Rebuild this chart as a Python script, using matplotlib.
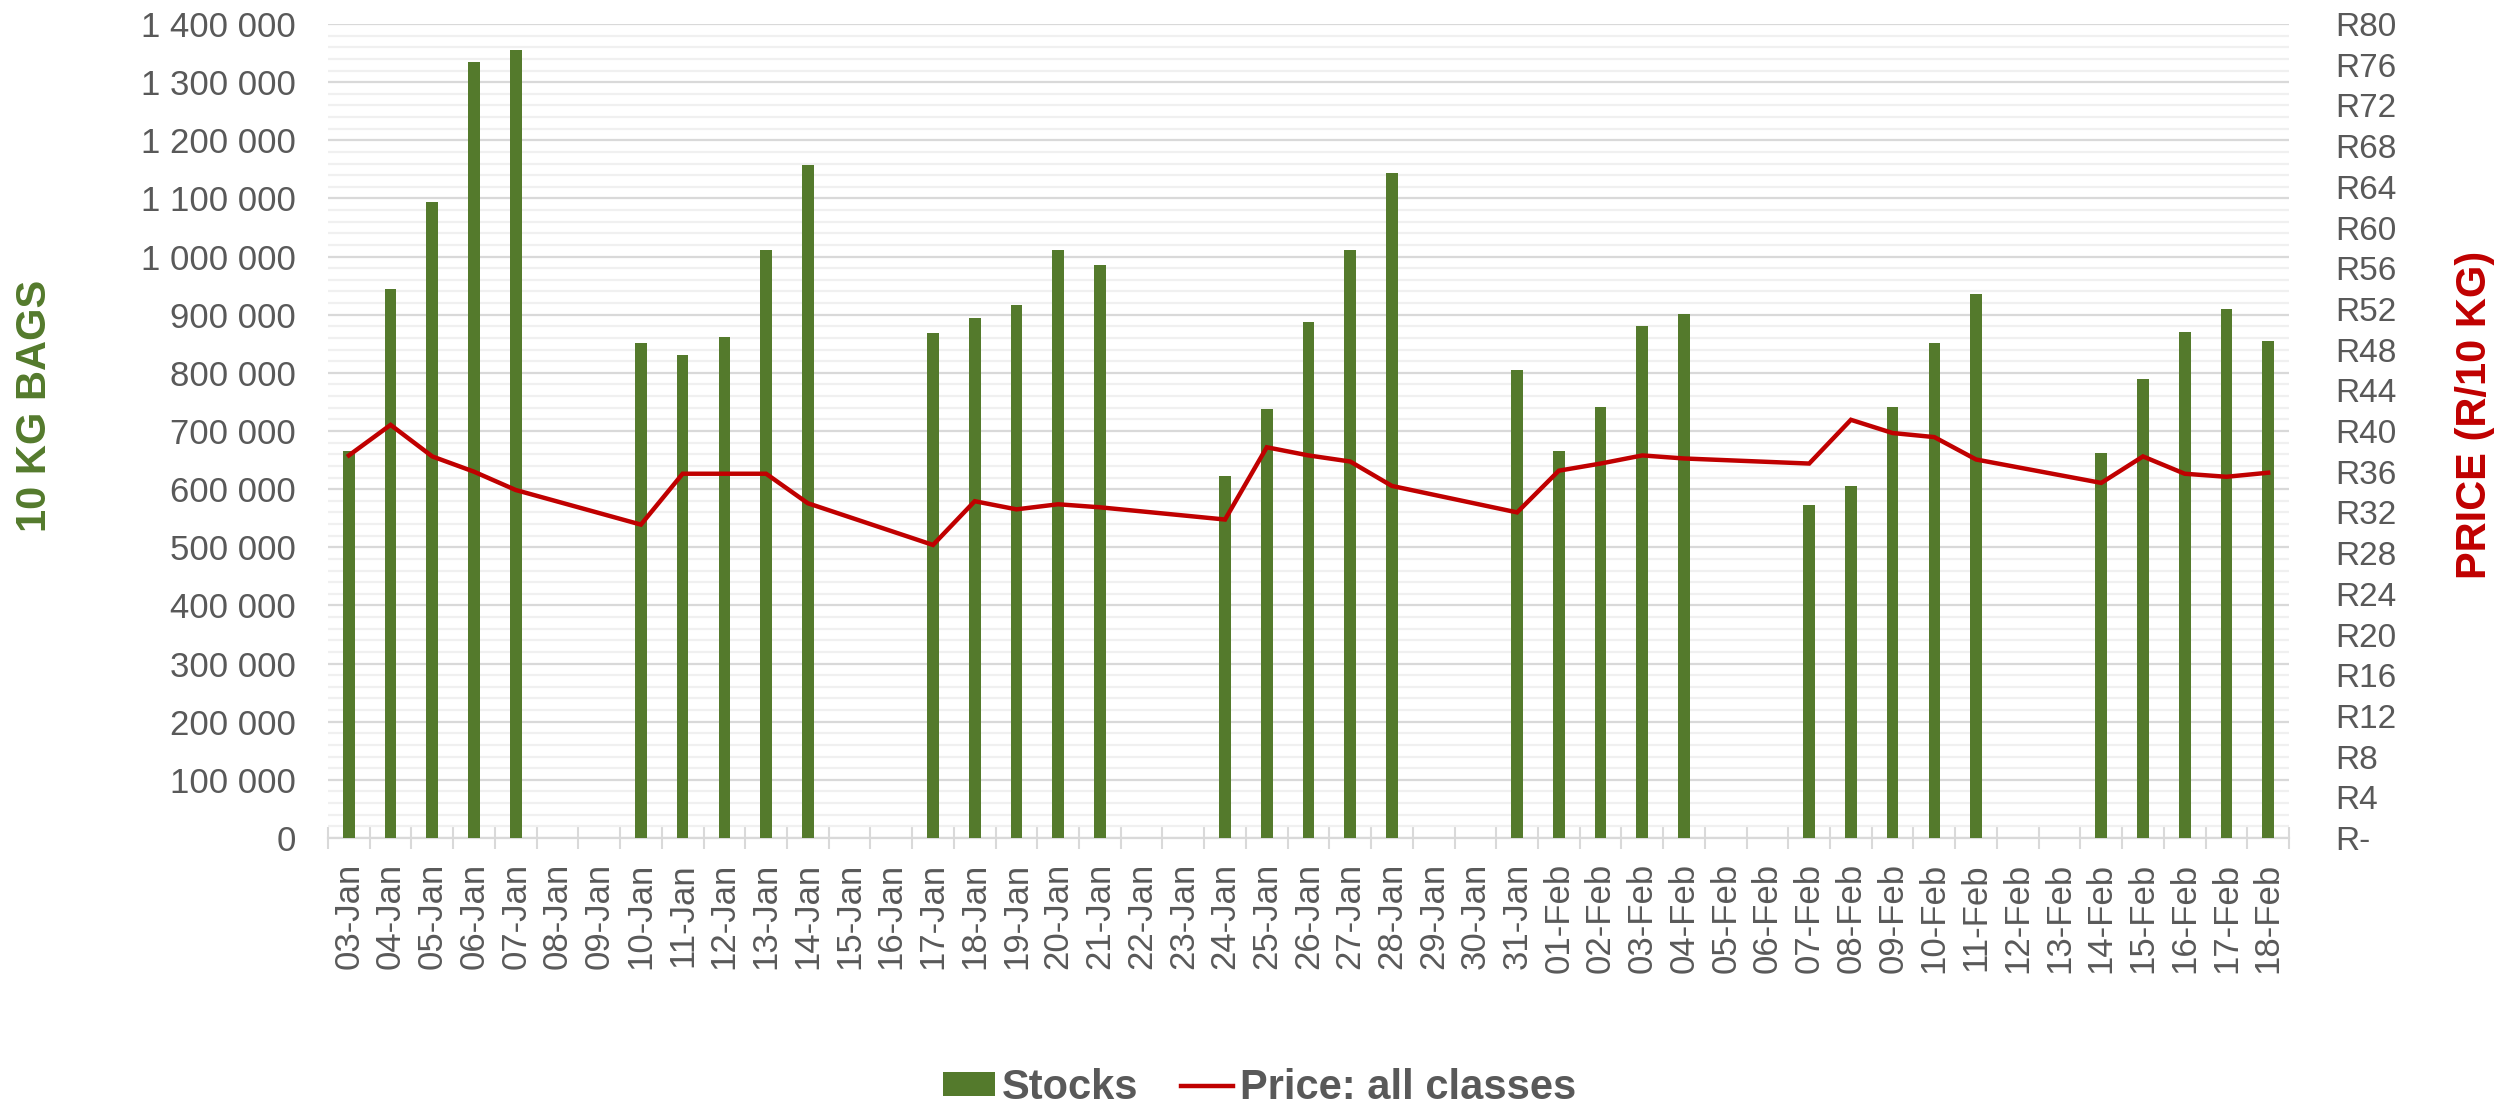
import numpy as np
import matplotlib
matplotlib.use("Agg")
import matplotlib.pyplot as plt
from matplotlib.ticker import FuncFormatter, MultipleLocator
from matplotlib.patches import Patch
from matplotlib.lines import Line2D

plt.rcParams['font.family'] = ['Liberation Sans', 'DejaVu Sans']

dates = ["03-Jan", "04-Jan", "05-Jan", "06-Jan", "07-Jan", "08-Jan", "09-Jan", "10-Jan",
         "11-Jan", "12-Jan", "13-Jan", "14-Jan", "15-Jan", "16-Jan", "17-Jan", "18-Jan",
         "19-Jan", "20-Jan", "21-Jan", "22-Jan", "23-Jan", "24-Jan", "25-Jan", "26-Jan",
         "27-Jan", "28-Jan", "29-Jan", "30-Jan", "31-Jan", "01-Feb", "02-Feb", "03-Feb",
         "04-Feb", "05-Feb", "06-Feb", "07-Feb", "08-Feb", "09-Feb", "10-Feb", "11-Feb",
         "12-Feb", "13-Feb", "14-Feb", "15-Feb", "16-Feb", "17-Feb", "18-Feb"]

stocks = [666000, 945000, 1094000, 1334000, 1355000, None, None, 852000,
          830000, 861000, 1012000, 1158000, None, None, 869000, 894000,
          916000, 1012000, 985000, None, None, 622000, 737000, 888000,
          1012000, 1144000, None, None, 805000, 666000, 741000, 881000,
          901000, None, None, 572000, 605000, 742000, 851000, 936000,
          None, None, 663000, 790000, 870000, 910000, 854000]

price = [37.6, 40.6, 37.5, 36.0, 34.2, None, None, 30.8,
         35.8, 35.8, 35.8, 32.9, None, None, 28.8, 33.1,
         32.3, 32.8, 32.5, None, None, 31.3, 38.4, 37.6,
         37.0, 34.6, None, None, 32.0, 36.1, 36.8, 37.6,
         37.3, None, None, 36.8, 41.1, 39.8, 39.4, 37.2,
         None, None, 34.9, 37.5, 35.8, 35.5, 35.9]

GREEN = '#547A2C'
RED = '#C00000'
GRAY = '#595959'
GRID = '#d9d9d9'

W, H = 2506, 1107
fig = plt.figure(figsize=(W / 100, H / 100), dpi=100)
L, R, T, B = 328, 2289, 24, 838
ax = fig.add_axes([L / W, 1 - B / H, (R - L) / W, (B - T) / H])

x = np.arange(len(dates))
s = np.array([np.nan if v is None else v for v in stocks], dtype=float)
p = np.array([np.nan if v is None else v for v in price], dtype=float)

ax.bar(x, s, width=0.28, color=GREEN, zorder=3)
ax.set_xlim(-0.5, len(dates) - 0.5)
ax.set_ylim(0, 1400000)
ax.yaxis.set_major_locator(MultipleLocator(100000))
ax.yaxis.set_minor_locator(MultipleLocator(20000))
ax.yaxis.set_major_formatter(FuncFormatter(lambda v, _: f"{int(v):,}".replace(",", " ")))
ax.grid(axis='y', which='major', color=GRID, linewidth=1.6, zorder=0)
ax.grid(axis='y', which='minor', color='#f0f0f0', linewidth=1.6, zorder=0)
ax.set_axisbelow(True)

ax.set_xticks(x)
ax.set_xticklabels(dates, rotation=90, fontsize=25, color=GRAY)
ax.set_xticks(np.arange(-0.5, len(dates), 1), minor=True)
ax.tick_params(axis='x', which='major', length=0, pad=18)
ax.tick_params(axis='x', which='minor', length=16, direction='inout', color=GRID, width=1.5)
ax.tick_params(axis='y', which='both', length=0)
ax.tick_params(axis='y', which='major', labelsize=25, labelcolor=GRAY, pad=23)

for sp in ['top', 'left', 'right']:
    ax.spines[sp].set_visible(False)
ax.spines['bottom'].set_color(GRID)
ax.spines['bottom'].set_linewidth(1.6)

ax2 = ax.twinx()
m = ~np.isnan(p)
ax2.plot(x[m], p[m], color=RED, linewidth=3.2, zorder=4, solid_joinstyle='miter')
ax2.set_ylim(0, 80)
ax2.yaxis.set_major_locator(MultipleLocator(4))
ax2.yaxis.set_major_formatter(FuncFormatter(lambda v, _: "R-" if v == 0 else f"R{int(v)}"))
ax2.tick_params(axis='y', length=0, labelsize=24, labelcolor=GRAY, pad=33)
for sp in ax2.spines.values():
    sp.set_visible(False)

fig.text(35 / W, 1 - 406 / H, '10 KG BAGS', rotation=90, ha='center', va='center',
         fontsize=30, fontweight='bold', color=GREEN)
fig.text(2475 / W, 1 - 415 / H, 'PRICE (R/10 KG)', rotation=90, ha='center', va='center',
         fontsize=30, fontweight='bold', color=RED)

handles = [Patch(facecolor=GREEN, edgecolor='none', label='Stocks'),
           Line2D([0], [0], color=RED, linewidth=3.2, label='Price: all classes')]
fig.legend(handles=handles, loc='center', bbox_to_anchor=(1259.5 / W, 1 - 1088 / H),
           ncol=2, frameon=False, prop={'size': 30, 'weight': 'bold'}, labelcolor=GRAY,
           handlelength=1.25, handleheight=0.5, handletextpad=0.17, columnspacing=1.03,
           borderpad=0, borderaxespad=0)

fig.savefig('out.png', dpi=100)
